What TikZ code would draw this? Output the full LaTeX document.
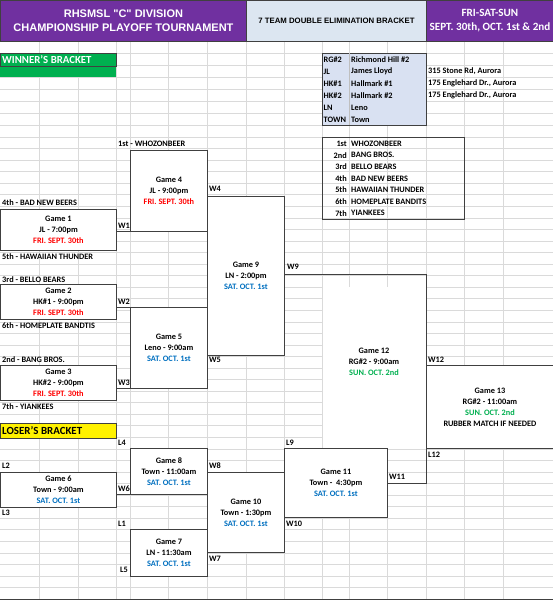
\documentclass[tikz,border=0pt]{standalone}
\usepackage{fontspec}
\setmainfont{Carlito}
\newfontfamily\arialfont{Liberation Sans}
\usetikzlibrary{positioning}

\definecolor{hdrpurple}{HTML}{7030A0}
\definecolor{hdrblue}{HTML}{DCE6F1}
\definecolor{locblue}{HTML}{D9E1F2}
\definecolor{frired}{HTML}{FF0000}
\definecolor{satblue}{HTML}{0070C0}
\definecolor{sungreen}{HTML}{00B050}
\definecolor{wingreen}{HTML}{00B050}
\definecolor{gridgray}{HTML}{DADADA}

\begin{document}
\begin{tikzpicture}[x=1pt,y=-1pt,
  gridline/.style={draw=gridgray, line width=0.6pt},
  edge/.style={draw=black!75, line width=0.9pt},
  game/.style={
    edge, fill=white, anchor=north west,
    inner sep=0pt, align=center,
    font=\fontsize{8.3}{11}\selectfont\bfseries
  },
  team/.style={anchor=west, inner sep=0pt, font=\fontsize{8.3}{10}\selectfont\bfseries},
  hdr/.style={edge, anchor=north west, inner sep=0pt, align=center}
]
\useasboundingbox (0,0) rectangle (553,600);

% --- sheet grid ---
\foreach \gx in {39,78,116,130,168,207,246,284,322,349,387,426,464,503}
  \draw[gridline] (\gx,41) -- (\gx,600);
\foreach \gy in {53,65,77,89,101,113,125}
  \draw[gridline] (0,\gy) -- (553,\gy);
\foreach \k in {0,...,39}
  \draw[gridline] (0,{137+11.55*\k}) -- (553,{137+11.55*\k});
\fill[white] (322.5,287) rectangle (425.5,447.5); % merged cells of game 12

% --- header ---
\node[hdr, fill=hdrpurple, minimum width=246pt, minimum height=41pt, text=white,
  font=\arialfont\fontsize{11}{14}\selectfont\bfseries] (title) at (0,0)
  {RHSMSL "C" DIVISION\\CHAMPIONSHIP PLAYOFF TOURNAMENT};
\node[hdr, fill=hdrblue, minimum width=180pt, minimum height=41pt,
  font=\arialfont\fontsize{7.8}{9}\selectfont\bfseries] (subtitle) at (246,0)
  {7 TEAM DOUBLE ELIMINATION BRACKET};
\node[hdr, fill=hdrpurple, minimum width=127pt, minimum height=41pt, text=white,
  font=\fontsize{11.1}{14}\selectfont\bfseries] (dates) at (426,0)
  {FRI-SAT-SUN\\SEPT. 30th, OCT. 1st \& 2nd};

% --- bracket labels ---
\fill[wingreen] (0,65) rectangle (116,77);
\node[hdr, fill=wingreen, minimum width=116pt, minimum height=12.5pt] (winbox) at (0,53) {};
\node[team, text=white, font=\fontsize{10.8}{12}\selectfont\bfseries] (winner) at (2,59.5) {WINNER'S BRACKET};
\node[hdr, fill=yellow, minimum width=116pt, minimum height=15pt] (losebox) at (0,423) {};
\node[team, font=\fontsize{10.9}{12}\selectfont\bfseries] (loser) at (2,430.5) {LOSER'S BRACKET};

% --- fields ---
\node[hdr, fill=locblue, minimum width=104pt, minimum height=72pt] (fields) at (322,53) {};
\draw[draw=black!25, line width=0.5pt] (fields.north west) ++(27,0) -- ++(0,72);
\foreach \code/\place [count=\i] in {RG\#2/Richmond Hill \#2, JL/James Lloyd, HK\#1/Hallmark \#1,
    HK\#2/Hallmark \#2, LN/Leno, TOWN/Town} {
  \node[team] (code\i) at (323.5,{47.5+12*\i}) {\code};
  \node[team] (place\i) at (351,{47.5+12*\i}) {\place};
}
\node[team] (addr2) at (428,71.5) {315 Stone Rd, Aurora};
\node[team] (addr3) at (428,83.5) {175 Englehard Dr., Aurora};
\node[team] (addr4) at (428,95.5) {175 Englehard Dr., Aurora};

% --- seeds ---
\node[hdr, minimum width=142pt, minimum height=82pt] (seeds) at (322,137) {};
\foreach \rank/\club [count=\i] in {1st/WHOZONBEER, 2nd/BANG BROS., 3rd/BELLO BEARS,
    4th/BAD NEW BEERS, 5th/HAWAIIAN THUNDER, 6th/HOMEPLATE BANDITS, 7th/YIANKEES} {
  \node[team, anchor=east] (rank\i) at (347,{132+11.6*\i}) {\rank};
  \node[team] (club\i) at (351,{132+11.6*\i}) {\club};
}

% --- winner's bracket ---
\node[game, minimum width=116pt, minimum height=41pt] (g1) at (0,209)
  {Game 1\\JL - 7:00pm\\\textcolor{frired}{FRI. SEPT. 30th}};
\node[game, minimum width=116pt, minimum height=35pt] (g2) at (0,284)
  {Game 2\\HK\#1 - 9:00pm\\\textcolor{frired}{FRI. SEPT. 30th}};
\node[game, minimum width=116pt, minimum height=35pt] (g3) at (0,365)
  {Game 3\\HK\#2 - 9:00pm\\\textcolor{frired}{FRI. SEPT. 30th}};
\node[game, minimum width=77pt, minimum height=81pt] (g4) at (130,150)
  {Game 4\\JL - 9:00pm\\\textcolor{frired}{FRI. SEPT. 30th}};
\node[game, minimum width=77pt, minimum height=81pt] (g5) at (130,307)
  {Game 5\\Leno - 9:00am\\\textcolor{satblue}{SAT. OCT. 1st}};
\node[game, minimum width=77pt, minimum height=159pt] (g9) at (207,196)
  {Game 9\\LN - 2:00pm\\\textcolor{satblue}{SAT. OCT. 1st}};

\draw[edge] (g1.east |- g4.south) -- (g4.south west);
\draw[edge] (g2.east |- g5.north) -- (g5.north west);
\draw[edge] (g3.east |- g5.south) -- (g5.south west);

% --- loser's bracket ---
\node[game, minimum width=116pt, minimum height=35pt] (g6) at (0,472)
  {Game 6\\Town - 9:00am\\\textcolor{satblue}{SAT. OCT. 1st}};
\node[game, minimum width=77pt, minimum height=46pt] (g8) at (130,448)
  {Game 8\\Town - 11:00am\\\textcolor{satblue}{SAT. OCT. 1st}};
\node[game, minimum width=77pt, minimum height=47pt] (g7) at (130,529)
  {Game 7\\LN - 11:30am\\\textcolor{satblue}{SAT. OCT. 1st}};
\node[game, minimum width=77pt, minimum height=80pt] (g10) at (207,472)
  {Game 10\\Town - 1:30pm\\\textcolor{satblue}{SAT. OCT. 1st}};
\node[game, minimum width=103pt, minimum height=69pt] (g11) at (284,448)
  {Game 11\\Town -\ \ 4:30pm\\\textcolor{satblue}{SAT. OCT. 1st}};

\draw[edge] (g6.east |- g8.south) -- (g8.south west);

% --- finals ---
\coordinate (g12top) at (426,274);
\node[game, draw=none, fill=none, anchor=center] (g12) at (374,362)
  {Game 12\\RG\#2 - 9:00am\\\textcolor{sungreen}{SUN. OCT. 2nd}};
\draw[edge] (g9.east |- g12top) -- (g12top) -- (g12top |- g11.east) -- (g11.east);
\node[game, draw=none, minimum width=127pt, minimum height=83pt] (g13) at (426,365)
  {Game 13\\RG\#2 - 11:00am\\\textcolor{sungreen}{SUN. OCT. 2nd}\\RUBBER MATCH IF NEEDED};
\draw[edge] (g13.north east) -- (g13.north west) -- (g13.south west) -- (g13.south east);

% --- seeded teams ---
\foreach \ty/\who in {203/4th - BAD NEW BEERS, 257/5th - HAWAIIAN THUNDER, 280/3rd - BELLO BEARS,
    326/6th - HOMEPLATE BANDTIS, 360/2nd - BANG BROS., 407/7th - YIANKEES}
  \node[team] at (2,\ty) {\who};
\node[team] (first) at (118,144) {1st - WHOZONBEER};

% --- winner / loser tags ---
\foreach \tx/\ty/\tag in {209/189/W4, 118/226/W1, 287/267/W9, 118/302/W2, 209/360/W5, 118/383/W3,
    428/360/W12, 428/455/L12, 118/443/L4, 2/466/L2, 209/466/W8, 118/489/W6, 2/513/L3,
    118/524/L1, 209/559/W7, 120/570/L5, 286/443/L9, 389/477/W11, 286/524/W10}
  \node[team] at (\tx,\ty) {\tag};

\draw[edge] (0,599.5) -- (553,599.5);
\end{tikzpicture}
\end{document}
